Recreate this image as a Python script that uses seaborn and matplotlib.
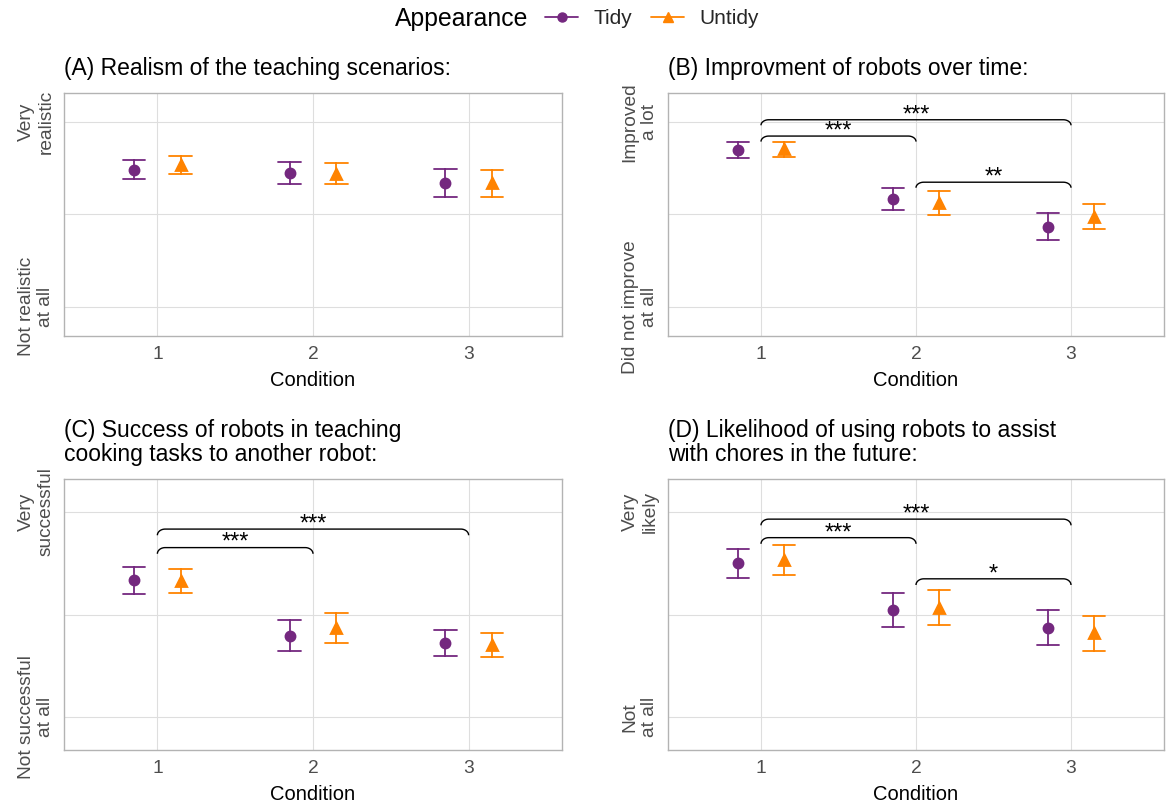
import numpy as np
import pandas as pd
import seaborn as sns
import matplotlib.pyplot as plt
from matplotlib.lines import Line2D

# ---- data: mean rating and 95% CI half-width, per condition ----
conditions = ["1", "2", "3"]
appearance = ["Tidy", "Untidy"]

realism_tidy = [5.46, 5.36, 5.02]
realism_tidy_ci = [0.32, 0.36, 0.45]
realism_untidy = [5.60, 5.33, 5.01]
realism_untidy_ci = [0.29, 0.35, 0.44]

improve_tidy = [6.10, 4.51, 3.60]
improve_tidy_ci = [0.26, 0.36, 0.44]
improve_untidy = [6.12, 4.36, 3.93]
improve_untidy_ci = [0.24, 0.39, 0.40]

success_tidy = [5.00, 3.38, 3.17]
success_tidy_ci = [0.39, 0.45, 0.38]
success_untidy = [4.98, 3.60, 3.10]
success_untidy_ci = [0.36, 0.43, 0.35]

likely_tidy = [5.49, 4.13, 3.62]
likely_tidy_ci = [0.42, 0.50, 0.50]
likely_untidy = [5.58, 4.19, 3.45]
likely_untidy_ci = [0.44, 0.51, 0.50]

titles = [
    "(A) Realism of the teaching scenarios:",
    "(B) Improvment of robots over time:",
    "(C) Success of robots in teaching\ncooking tasks to another robot:",
    "(D) Likelihood of using robots to assist\nwith chores in the future:",
]
scale_low = ["Not realistic\nat all", "Did not improve\nat all",
             "Not successful\nat all", "Not\nat all"]
scale_high = ["Very\nrealistic", "Improved\na lot",
              "Very\nsuccessful", "Very\nlikely"]

# significance brackets: (from condition, to condition, height, label)
brackets_A = []
brackets_B = [("1", "3", 7.08, "***"), ("1", "2", 6.55, "***"), ("2", "3", 5.05, "**")]
brackets_C = [("1", "3", 6.49, "***"), ("1", "2", 5.95, "***")]
brackets_D = [("1", "3", 6.78, "***"), ("1", "2", 6.24, "***"), ("2", "3", 5.04, "*")]

palette = {"Tidy": "#74287F", "Untidy": "#FF8300"}
markers = ["o", "^"]


def long_frame(tidy, tidy_ci, untidy, untidy_ci):
    # each cell is stored as its lower and upper CI bound; the mean of the
    # pair is the point estimate and min/max span the interval
    rows = []
    for group, mean, ci in (("Tidy", tidy, tidy_ci), ("Untidy", untidy, untidy_ci)):
        for cond, m, h in zip(conditions, mean, ci):
            rows.append({"Condition": cond, "Appearance": group, "value": m - h})
            rows.append({"Condition": cond, "Appearance": group, "value": m + h})
    return pd.DataFrame(rows)


panels = [
    long_frame(realism_tidy, realism_tidy_ci, realism_untidy, realism_untidy_ci),
    long_frame(improve_tidy, improve_tidy_ci, improve_untidy, improve_untidy_ci),
    long_frame(success_tidy, success_tidy_ci, success_untidy, success_untidy_ci),
    long_frame(likely_tidy, likely_tidy_ci, likely_untidy, likely_untidy_ci),
]
brackets = [brackets_A, brackets_B, brackets_C, brackets_D]

sns.set_theme(style="white")
plt.rcParams["font.family"] = ["Liberation Sans", "DejaVu Sans"]

W, H = 1166, 808
fig = plt.figure(figsize=(W / 100, H / 100), dpi=100)


def px_axes(l, t, r, b):
    return fig.add_axes([l / W, 1 - b / H, (r - l) / W, (b - t) / H])


boxes = [(64, 93, 562, 336), (668, 93, 1164, 336),
         (64, 479, 562, 750), (668, 479, 1164, 750)]


def draw_bracket(ax, x0, x1, y, label, rx=0.05, ry=0.18):
    t = np.linspace(0, np.pi / 2, 20)
    left_x = x0 + rx - rx * np.cos(t)
    left_y = y - ry + ry * np.sin(t)
    right_x = x1 - rx + rx * np.cos(t[::-1])
    right_y = y - ry + ry * np.sin(t[::-1])
    xs = np.concatenate([left_x, right_x])
    ys = np.concatenate([left_y, right_y])
    ax.plot(xs, ys, color="black", lw=1.0, solid_capstyle="butt", zorder=4)
    ax.annotate(label, xy=((x0 + x1) / 2, y), xytext=(0, -1.0),
                textcoords="offset points", ha="center", va="baseline",
                fontsize=17, color="black")


for i, (df, box) in enumerate(zip(panels, boxes)):
    ax = px_axes(*box)
    sns.pointplot(
        data=df, x="Condition", y="value", hue="Appearance",
        order=conditions, hue_order=appearance, palette=palette,
        estimator="mean", errorbar=lambda v: (v.min(), v.max()),
        markers=markers, linestyle="none", dodge=0.3, capsize=0.145,
        err_kws={"linewidth": 1.3}, markersize=6.5, legend=False, ax=ax,
    )
    for ln in ax.lines:
        if ln.get_marker() == "^":
            ln.set_markersize(7.8)
        ln.set_zorder(3)

    for a, b, y, lab in brackets[i]:
        draw_bracket(ax, conditions.index(a), conditions.index(b), y, lab)

    ax.set_xlim(-0.6, 2.6)
    ax.set_ylim(0.05, 7.95)
    ax.set_yticks([1, 7])
    ax.set_yticks([4], minor=True)
    ax.set_yticklabels([scale_low[i], scale_high[i]], rotation=90,
                       va="center", ha="right", multialignment="center")
    ax.set_xlabel("Condition", fontsize=14.5, color="black", labelpad=6)
    ax.set_ylabel("")
    ax.grid(True, which="both", color="#DEDEDE", linewidth=0.8)
    ax.set_axisbelow(True)
    for sp in ax.spines.values():
        sp.set_color("#B3B3B3")
        sp.set_linewidth(1.0)
    ax.tick_params(axis="both", which="major", length=4.5, width=0.8,
                   color="#B3B3B3", labelcolor="#4D4D4D", labelsize=13.8, pad=2.5)
    ax.tick_params(axis="both", which="minor", length=0)
    ax.set_title(titles[i], loc="left", fontsize=16.5, color="black",
                 pad=13, linespacing=1.08)

# shared legend across the top
fig.text(528 / W, 1 - 19 / H, "Appearance", ha="right", va="center",
         fontsize=17.8, color="black")
handles = [Line2D([], [], color=palette[g], marker=m, markersize=6.5 if m == "o" else 7.8,
                  linewidth=1.3) for g, m in zip(appearance, markers)]
fig.legend(handles, appearance, loc="center left", bbox_to_anchor=(545 / W, 1 - 19 / H),
           ncol=2, frameon=False, fontsize=15, handlelength=1.6, handletextpad=0.72,
           columnspacing=0.9, borderpad=0, borderaxespad=0)

fig.savefig("out.png", dpi=100)
